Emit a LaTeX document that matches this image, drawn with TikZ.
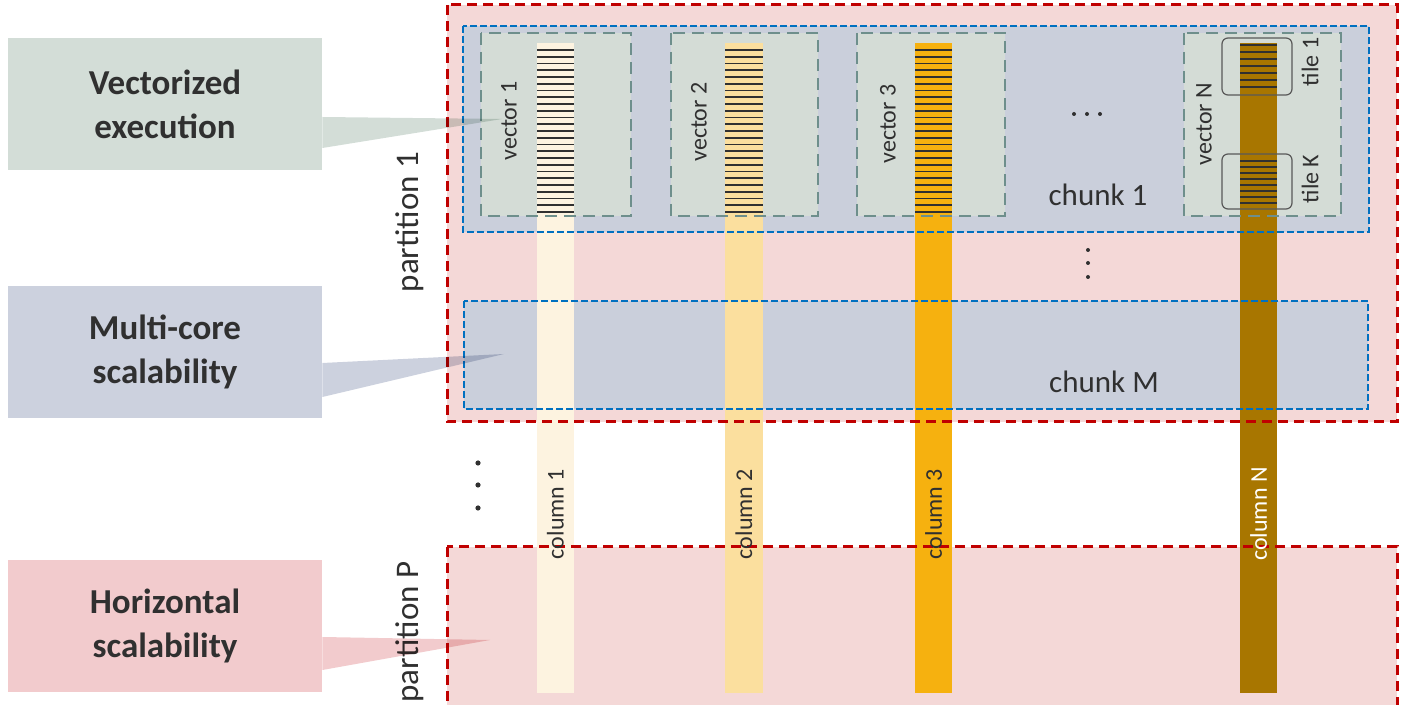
\documentclass[tikz,border=0pt]{standalone}
\usepackage{fontspec}
\setmainfont{Carlito}
\definecolor{partfill}{HTML}{F4D8D7}
\definecolor{partred}{HTML}{C00000}
\definecolor{chunkfill}{HTML}{CACFDB}
\definecolor{chunkblue}{HTML}{0070C0}
\definecolor{vecfill}{HTML}{D4DCD6}
\definecolor{vecedge}{HTML}{6E8F8C}
\definecolor{colone}{HTML}{FDF3E0}
\definecolor{coltwo}{HTML}{FBDF9E}
\definecolor{colthree}{HTML}{F6B10F}
\definecolor{colN}{HTML}{A87600}
\definecolor{vecnote}{HTML}{D3DDD7}
\definecolor{corenote}{HTML}{CCD1DE}
\definecolor{horiznote}{HTML}{F2CBCD}
\definecolor{ink}{HTML}{303030}

\begin{document}
\begin{tikzpicture}[x=0.5pt, y=-0.5pt,
    partbox/.style={fill=partfill, draw=partred, line width=1.5pt, dash pattern=on 5pt off 3pt},
    chunkbox/.style={fill=chunkfill, draw=chunkblue, line width=1.4pt, dash pattern=on 3.5pt off 1.5pt},
    vecbox/.style={fill=vecfill, draw=vecedge, line width=1.4pt, dash pattern=on 6pt off 3.5pt},
    tilebox/.style={draw=black!65, line width=0.6pt, rounded corners=3pt},
    hatch/.style={draw=ink, line width=0.8pt},
    smalllabel/.style={text=ink, rotate=90, font=\fontsize{12}{14}\selectfont},
    partlabel/.style={text=ink, rotate=90, font=\fontsize{16.5}{19}\selectfont},
    chunklabel/.style={text=ink, font=\fontsize{15.5}{18}\selectfont},
    callout/.style={minimum width=157pt, minimum height=66pt, align=center, text=ink,
        font=\bfseries\fontsize{17.5}{22}\selectfont},
    dot/.style={fill=ink, circle, inner sep=0pt, minimum size=2.6pt}
]
    \clip (0, 0) rectangle (1405, 705);

    % partitions and chunks (fills)
    \fill[partfill] (447, 5) rectangle (1397, 422);
    \fill[partfill] (447, 547) rectangle (1397, 720);
    \fill[chunkfill] (463, 26) rectangle (1369, 232);
    \fill[chunkfill] (464, 301) rectangle (1368, 409);
    \fill[vecfill] (481, 33) rectangle (631, 216);
    \fill[vecfill] (671, 33) rectangle (818, 216);
    \fill[vecfill] (857, 33) rectangle (1005, 216);
    \fill[vecfill] (1184, 33) rectangle (1341, 216);

    % columns
    \fill[colone] (537, 43) rectangle (574, 693);
    \fill[coltwo] (725, 43) rectangle (763, 693);
    \fill[colthree] (915, 43) rectangle (952, 693);
    \fill[colN] (1240, 43) rectangle (1277, 693);

    % values inside the vectors
    \foreach \y in {50, 56.75, ..., 213} {
        \draw[hatch] (537, \y) -- (574, \y);
        \draw[hatch] (725, \y) -- (763, \y);
        \draw[hatch] (915, \y) -- (952, \y);
    }
    \foreach \y in {45, 52, ..., 88} \draw[hatch] (1240, \y) -- (1277, \y);
    \foreach \y in {161, 167, ..., 203} \draw[hatch] (1240, \y) -- (1277, \y);

    % borders on top
    \draw[vecbox, fill=none] (481, 33) rectangle (631, 216);
    \draw[vecbox, fill=none] (671, 33) rectangle (818, 216);
    \draw[vecbox, fill=none] (857, 33) rectangle (1005, 216);
    \draw[vecbox, fill=none] (1184, 33) rectangle (1341, 216);
    \draw[tilebox] (1222, 38) rectangle (1292, 95);
    \draw[tilebox] (1222, 154) rectangle (1292, 209);
    \draw[chunkbox, fill=none] (463, 26) rectangle (1369, 232);
    \draw[chunkbox, fill=none] (464, 301) rectangle (1368, 409);
    \draw[partbox, fill=none] (447, 5) rectangle (1397, 422);
    \draw[partbox, fill=none] (447, 547) rectangle (1397, 720);

    % labels
    \node[smalllabel] (vecone) at (509, 121) {vector 1};
    \node[smalllabel] (vectwo) at (699, 122) {vector 2};
    \node[smalllabel] (vecthree) at (888, 124) {vector 3};
    \node[smalllabel] (vecN) at (1204, 124) {vector N};
    \node[smalllabel] (tileone) at (1310, 62) {tile 1};
    \node[smalllabel] (tileK) at (1310, 179) {tile K};
    \node[smalllabel] (colonelabel) at (555.5, 514) {column 1};
    \node[smalllabel] (coltwolabel) at (744, 514) {column 2};
    \node[smalllabel] (colthreelabel) at (933.5, 514) {column 3};
    \node[smalllabel, text=white] (colNlabel) at (1258.5, 514) {column N};
    \node[chunklabel] (chunkone) at (1098, 195) {chunk 1};
    \node[chunklabel] (chunkM) at (1104, 382) {chunk M};
    \node[partlabel] (partone) at (410, 222) {partition 1};
    \node[partlabel] (partP) at (410, 632) {partition P};

    % ellipses
    \foreach \x [count=\i] in {1074, 1087, 1100} \node[dot, minimum size=2pt] (hdot\i) at (\x, 114) {};
    \foreach \y [count=\i] in {250, 263, 277} \node[dot, minimum size=2pt] (vdot\i) at (1088, \y) {};
    \foreach \y [count=\i] in {463, 485, 508} \node[dot] (pdot\i) at (478, \y) {};

    % callouts
    \node[callout, fill=vecnote] (vecexec) at (165, 104) {Vectorized\\execution};
    \node[callout, fill=corenote] (multicore) at (165, 352) {Multi-core\\scalability};
    \node[callout, fill=horiznote] (horiz) at (165, 626) {Horizontal\\scalability};
    \coordinate (vectip) at (502, 119);
    \coordinate (coretip) at (504, 354);
    \coordinate (horiztip) at (490, 640);
    \begin{scope}[blend mode=multiply]
        \fill[vecnote] ([yshift=-6.5pt]vecexec.east) -- (vectip) -- ([yshift=-22pt]vecexec.east) -- cycle;
        \fill[corenote] ([yshift=-5.5pt]multicore.east) -- (coretip) -- ([yshift=-22.5pt]multicore.east) -- cycle;
        \fill[horiznote] ([yshift=-5.5pt]horiz.east) -- (horiztip) -- ([yshift=-22pt]horiz.east) -- cycle;
    \end{scope}
\end{tikzpicture}
\end{document}
